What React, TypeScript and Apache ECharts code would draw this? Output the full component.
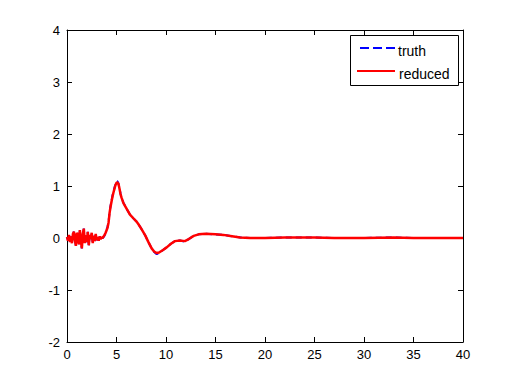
import React, { useEffect, useRef } from "react";
import * as echarts from "echarts";

const xs = [
  0, 0.1, 0.2, 0.3, 0.4, 0.5, 0.6, 0.7, 0.8, 0.9, 1.0, 1.1, 1.2, 1.3, 1.4, 1.5, 1.6, 1.7, 1.8, 1.9,
  2.0, 2.1, 2.2, 2.3, 2.4, 2.5, 2.6, 2.7, 2.8, 2.9, 3.0, 3.1, 3.2, 3.3, 3.4, 3.5, 3.6,
  3.7, 3.8, 3.9, 4.0, 4.1, 4.2, 4.3, 4.4, 4.5, 4.6, 4.7, 4.8, 4.9, 5.0, 5.1, 5.2, 5.3, 5.4, 5.5,
  5.7, 6.0, 6.36, 6.7, 7.0, 7.2, 7.5, 7.9, 8.2, 8.55, 8.8, 9.06, 9.3, 9.7, 10.07, 10.5, 10.9,
  11.4, 11.9, 12.3, 12.8, 13.3, 14, 15, 15.8, 16.5, 17.5, 18.5, 20, 22, 25, 27, 30, 33, 35, 40,
];

const reduced = [
  0.02, -0.05, 0.06, -0.08, 0.03, -0.1, 0.08, 0.12, -0.04, -0.15, 0.1, 0.05, -0.12, 0.15, -0.06, -0.2, 0.08, 0.18, -0.1, 0.05,
  -0.08, 0.12, -0.14, 0.06, -0.02, 0.1, -0.1, 0.04, -0.06, 0.08, -0.04, 0.02, -0.05, 0.03, -0.02, 0.01, 0.0,
  0.03, 0.06, 0.1, 0.15, 0.2, 0.3, 0.48, 0.6, 0.7, 0.8, 0.88, 0.95, 1.02, 1.06, 1.07, 1.04, 0.95, 0.85, 0.78,
  0.67, 0.57, 0.45, 0.38, 0.32, 0.27, 0.18, 0.05, -0.07, -0.2, -0.26, -0.29, -0.28, -0.23, -0.18, -0.11, -0.06,
  -0.05, -0.06, -0.02, 0.04, 0.07, 0.08, 0.07, 0.06, 0.04, 0.01, 0.0, 0.0, 0.01, 0.01, 0.0, 0.0, 0.01, 0.0, 0.0,
];

const truth = [
  0.02, -0.05, 0.06, -0.08, 0.03, -0.1, 0.08, 0.12, -0.04, -0.15, 0.1, 0.05, -0.12, 0.15, -0.06, -0.2, 0.08, 0.18, -0.1, 0.05,
  -0.08, 0.12, -0.14, 0.06, -0.02, 0.1, -0.1, 0.04, -0.06, 0.08, -0.04, 0.02, -0.05, 0.03, -0.02, 0.01, 0.0,
  0.02, 0.05, 0.1, 0.16, 0.22, 0.32, 0.5, 0.62, 0.72, 0.82, 0.9, 0.97, 1.04, 1.09, 1.09, 1.05, 0.96, 0.86, 0.78,
  0.68, 0.57, 0.45, 0.38, 0.32, 0.27, 0.18, 0.05, -0.07, -0.2, -0.27, -0.31, -0.29, -0.23, -0.18, -0.11, -0.06,
  -0.05, -0.07, -0.02, 0.04, 0.07, 0.08, 0.07, 0.06, 0.04, 0.01, 0.0, 0.0, 0.01, 0.01, 0.0, 0.0, 0.01, 0.0, 0.0,
];

const xTicks = [0, 5, 10, 15, 20, 25, 30, 35, 40];
const yTicks = [-2, -1, 0, 1, 2, 3, 4];
const seriesNames = ["truth", "reduced"];

export default function App() {
  const ref = useRef<HTMLDivElement>(null);
  useEffect(() => {
    if (!ref.current) return;
    const chart = echarts.init(ref.current, null, { renderer: "svg" });
    const font = "Liberation Sans, Arial, sans-serif";
    const axisCommon = {
      axisLine: { show: true, onZero: false, lineStyle: { color: "#000", width: 1 } },
      axisTick: { show: true, inside: true, length: 5, lineStyle: { color: "#000" } },
      splitLine: { show: false },
    };
    chart.setOption({
      animation: false,
      backgroundColor: "#fff",
      textStyle: { fontFamily: font },
      grid: { left: 67, right: 49, top: 30, bottom: 42, containLabel: false },
      xAxis: [
        {
          type: "value",
          min: xTicks[0],
          max: xTicks[xTicks.length - 1],
          interval: 5,
          position: "bottom",
          ...axisCommon,
          axisLabel: { color: "#000", fontSize: 13, fontFamily: font, margin: 6 },
        },
        {
          type: "value",
          min: xTicks[0],
          max: xTicks[xTicks.length - 1],
          interval: 5,
          position: "top",
          ...axisCommon,
          axisLabel: { show: false },
        },
      ],
      yAxis: [
        {
          type: "value",
          min: yTicks[0],
          max: yTicks[yTicks.length - 1],
          interval: 1,
          position: "left",
          ...axisCommon,
          axisLabel: { color: "#000", fontSize: 13, fontFamily: font, margin: 7 },
        },
        {
          type: "value",
          min: yTicks[0],
          max: yTicks[yTicks.length - 1],
          interval: 1,
          position: "right",
          ...axisCommon,
          axisLabel: { show: false },
        },
      ],
      graphic: [
        {
          type: "rect",
          shape: { x: 350.5, y: 35.5, width: 108, height: 50 },
          style: { fill: "#fff", stroke: "#000", lineWidth: 1 },
          z: 10,
        },
        {
          type: "line",
          shape: { x1: 360, y1: 48, x2: 396, y2: 48 },
          style: { stroke: "#0000ff", lineWidth: 2, lineDash: [9, 4] },
          z: 11,
        },
        {
          type: "text",
          x: 398,
          y: 51,
          style: { text: seriesNames[0], fill: "#000", font: `14px ${font}`, textVerticalAlign: "middle", verticalAlign: "middle" },
          z: 11,
        },
        {
          type: "line",
          shape: { x1: 357, y1: 71, x2: 395, y2: 71 },
          style: { stroke: "#ff0000", lineWidth: 2 },
          z: 11,
        },
        {
          type: "text",
          x: 399,
          y: 74,
          style: { text: seriesNames[1], fill: "#000", font: `14px ${font}`, textVerticalAlign: "middle", verticalAlign: "middle" },
          z: 11,
        },
      ],
      series: [
        {
          name: seriesNames[0],
          type: "line",
          showSymbol: false,
          symbol: "none",
          data: xs.map((x, i) => [x, truth[i]]),
          lineStyle: { color: "#0000ff", width: 2, type: [6, 4] },
          itemStyle: { color: "#0000ff" },
          z: 2,
        },
        {
          name: seriesNames[1],
          type: "line",
          showSymbol: false,
          symbol: "none",
          data: xs.map((x, i) => [x, reduced[i]]),
          lineStyle: { color: "#ff0000", width: 2.5 },
          itemStyle: { color: "#ff0000" },
          z: 3,
        },
      ],
    });
    return () => chart.dispose();
  }, []);
  return <div ref={ref} style={{ width: 512, height: 384, position: "absolute", left: 0, top: 0 }} />;
}
